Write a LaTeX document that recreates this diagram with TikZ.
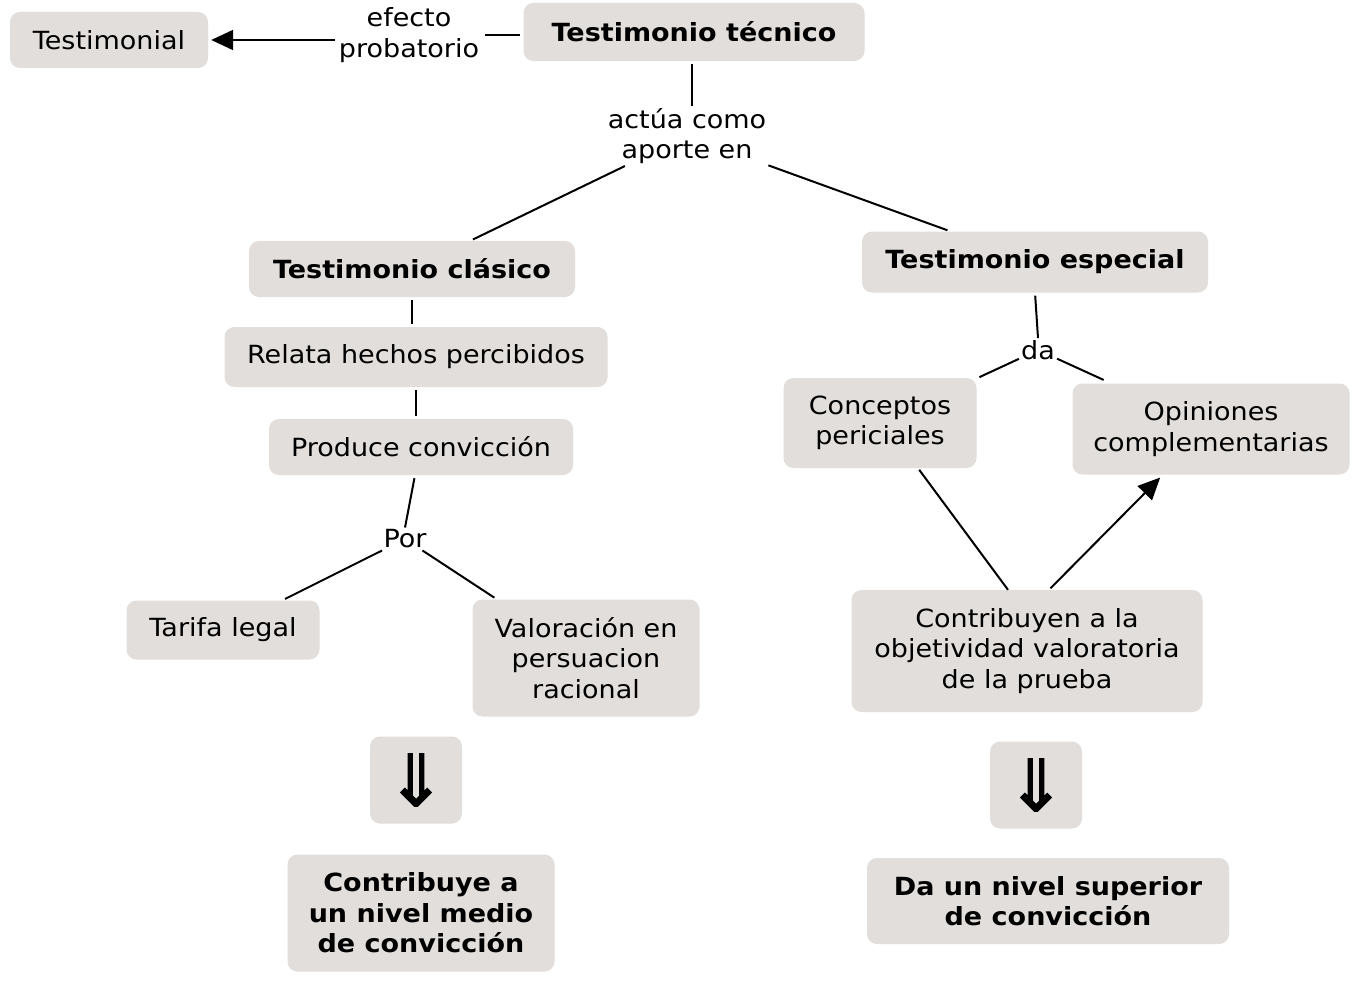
\documentclass[tikz,border=0pt]{standalone}
\usepackage{fontspec}
\setmainfont{DejaVu Sans}[FakeStretch=1.08]
\newfontfamily\arrowfont{DejaVu Sans}[FakeStretch=1.0, FakeBold=1.5]
\usetikzlibrary{arrows.meta,calc}
\definecolor{boxgray}{HTML}{E1DEDB}
\tikzset{
  box/.style={fill=boxgray, rounded corners=10pt, align=center, inner sep=2pt,
    font=\fontsize{25}{30.5}\selectfont},
  bbox/.style={box, font=\fontsize{25}{30.5}\selectfont\bfseries},
  lbl/.style={align=center, inner sep=2pt, font=\fontsize{25}{30.5}\selectfont},
  conn/.style={line width=2pt, draw=black},
  arr/.style={conn, -{Triangle[length=22pt,width=20pt]}},
  dbl/.style={box, inner sep=0pt, font=\arrowfont\fontsize{72}{72}\selectfont}
}
\begin{document}
\begin{tikzpicture}[x=1pt,y=-1pt]
\useasboundingbox[fill=white] (0,0) rectangle (1362,987);
% nodes
\node[box, minimum width=198pt, minimum height=56pt] (testimonial) at (109,40) {Testimonial};
\node[bbox, minimum width=341pt, minimum height=58pt] (tec) at (694,32) {Testimonio técnico};
\node[lbl] (efecto) at (409,35) {efecto\\probatorio};
\node[lbl] (actua) at (687,136) {actúa como\\aporte en};
\node[bbox, minimum width=326pt, minimum height=56pt] (clasico) at (412,269) {Testimonio clásico};
\node[bbox, minimum width=346pt, minimum height=61pt] (especial) at (1035,262) {Testimonio especial};
\node[box, minimum width=383pt, minimum height=60pt] (relata) at (416,357) {Relata hechos percibidos};
\node[box, minimum width=304pt, minimum height=56pt] (produce) at (421,447) {Produce convicción};
\node[lbl] (por) at (405,539) {Por};
\node[box, minimum width=193pt, minimum height=59pt] (tarifa) at (223,630) {Tarifa legal};
\node[box, minimum width=227pt, minimum height=117pt] (valoracion) at (586,658) {Valoración en\\persuacion\\racional};
\node[dbl, minimum width=92pt, minimum height=87pt] (arrL) at (416,780) {⇓};
\node[dbl, minimum width=92pt, minimum height=87pt] (arrR) at (1036,785) {⇓};
\node[bbox, minimum width=267pt, minimum height=117pt] (medio) at (421,913) {Contribuye a\\un nivel medio\\de convicción};
\node[lbl] (da) at (1038,350) {da};
\node[box, minimum width=193pt, minimum height=90pt] (conceptos) at (880,423) {Conceptos\\periciales};
\node[box, minimum width=277pt, minimum height=91pt] (opiniones) at (1211,429) {Opiniones\\complementarias};
\node[box, minimum width=351pt, minimum height=122pt] (contribuyen) at (1027,651) {Contribuyen a la\\objetividad valoratoria\\de la prueba};
\node[bbox, minimum width=362pt, minimum height=86pt] (superior) at (1048,901) {Da un nivel superior\\de convicción};
% connectors
\draw[conn, shorten >=3pt] ($(efecto.east)+(4,0)$) -- (efecto.east -| tec.west);
\draw[arr, shorten >=3pt] ($(efecto.west |- testimonial.east)+(-2,0)$) -- (testimonial.east);
\draw[conn, shorten <=3pt] (tec.south -| actua.north) ++(5,0) coordinate (tecb) -- (tecb |- actua.north);
\draw[conn, shorten >=3pt] (actua) -- (clasico);
\draw[conn, shorten >=3pt] (actua) -- (especial);
\draw[conn, shorten <=3pt, shorten >=3pt] (clasico.south) -- (clasico.south |- relata.north);
\draw[conn, shorten <=3pt, shorten >=3pt] (relata.south) -- (relata.south |- produce.north);
\draw[conn, shorten <=3pt] ($(produce.south)+(-6,0)$) -- (por.north);
\draw[conn, shorten >=3pt] (por) -- (tarifa);
\draw[conn, shorten >=3pt] (por) -- (valoracion);
\draw[conn, shorten <=3pt] (especial.south) -- (da.north);
\draw[conn, shorten >=3pt] (da) -- (conceptos);
\draw[conn, shorten >=8pt] (da) -- (opiniones);
\draw[conn, shorten <=2pt] ($(conceptos.south)+(38,0)$) -- ($(contribuyen.north)+(-19,0)$);
\draw[arr, shorten <=2pt, shorten >=4pt] ($(contribuyen.north)+(22,0)$) -- ($(opiniones.south)+(-48,0)$);
\end{tikzpicture}
\end{document}
